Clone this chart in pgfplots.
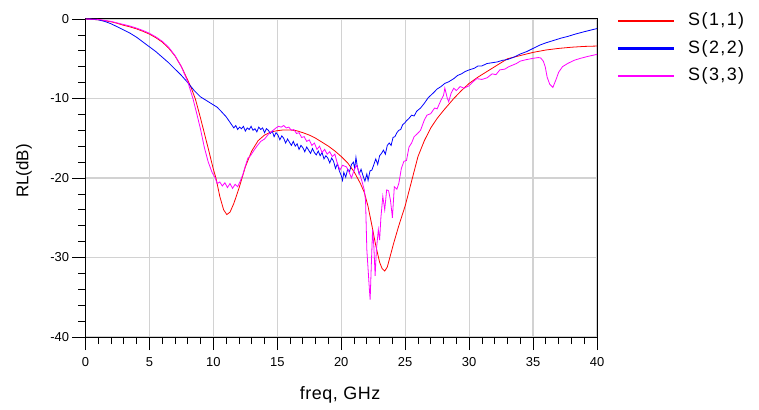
\documentclass[border=0pt]{standalone}
\usepackage{pgfplots}
\pgfplotsset{compat=1.18}
\usepackage{fontspec}
\setmainfont{Liberation Sans}
\definecolor{sred}{RGB}{255,0,0}
\definecolor{sblue}{RGB}{0,0,255}
\definecolor{smag}{RGB}{255,0,255}

\begin{document}
\begin{tikzpicture}
\begin{axis}[
    width=511.5bp, height=318bp, scale only axis,
    xmin=0, xmax=40, ymin=-40, ymax=0,
    xtick={0,5,...,40}, ytick={-40,-30,...,0},
    minor x tick num=4, minor y tick num=4,
    tick align=outside, tick pos=left,
    major tick length=13bp, minor tick length=7bp,
    every tick/.style={black, line width=0.8bp},
    grid=major, major grid style={line width=1.2bp, color=gray!35},
    axis line style={line width=1bp},
    /pgf/number format/assume math mode=true,
    ticklabel style={font=\fontsize{13}{15}\selectfont},
    xticklabel style={yshift=-4bp},
    xlabel={freq, GHz}, ylabel={RL(dB)},
    every axis x label/.style={at={(axis description cs:0.4976,-0.182)}, anchor=center,
        font=\fontsize{18}{21}\selectfont\addfontfeature{LetterSpace=3}},
    every axis y label/.style={at={(axis description cs:-0.1202,0.522)}, anchor=center, rotate=90,
        font=\fontsize{17}{20}\selectfont},
    legend style={draw=none, fill=none, at={(1,1)}, anchor=north west,
        xshift=20bp, yshift=6.5bp, inner sep=0pt, column sep=13bp, row sep=10.3bp,
        font=\fontsize{18}{21}\selectfont\addfontfeature{LetterSpace=8},
        nodes={inner sep=0pt, text height=13bp, text depth=4bp}},
    legend cell align=left,
    legend image code/.code={\draw[#1, line width=2bp] (0bp,0bp) -- (56bp,0bp);},
]
% S(1,1)
\addplot[sred, line width=0.8bp] coordinates {
(0,0) (1,-0.1) (2,-0.35) (2.5,-0.55) (3,-0.8) (3.5,-1.0) (4,-1.25) (4.5,-1.55) (5,-1.9)
(5.5,-2.35) (6,-2.9) (6.5,-3.65) (7,-4.65) (7.5,-6.0) (8,-7.7) (8.3,-8.8) (8.6,-10.1)
(9,-12.5) (9.3,-14.4) (9.6,-16.3) (10,-18.9) (10.2,-20.0) (10.5,-22.3) (10.8,-24.0)
(11.05,-24.6) (11.3,-24.3) (11.6,-23.2) (12,-21.3) (12.5,-18.6) (13,-16.6) (13.5,-15.3)
(14,-14.6) (14.5,-14.2) (15,-14.05) (15.5,-13.95) (16,-13.95) (16.5,-14.05) (17,-14.3)
(17.5,-14.6) (18,-15.0) (18.5,-15.5) (19,-16.0) (19.5,-16.6) (20,-17.3) (20.5,-18.1)
(21,-19.2) (21.5,-20.7) (21.8,-21.8) (22.1,-23.6) (22.4,-26.0) (22.7,-28.5) (23.0,-30.6)
(23.2,-31.4) (23.4,-31.7) (23.6,-31.2) (23.8,-30.0) (24.1,-28.2) (24.5,-26.0) (25,-23.5)
(25.5,-20.4) (26.0,-17.3) (26.5,-15.3) (27,-13.7) (27.5,-12.5) (28,-11.5) (28.8,-10.0)
(29.4,-9.0) (30,-8.1) (30.7,-7.3) (31.4,-6.6) (32.2,-5.8) (33,-5.0) (34,-4.6) (35,-4.2)
(36,-3.9) (37,-3.7) (38,-3.55) (39,-3.45) (40,-3.4)
};
\addlegendentry{S(1,1)}
% S(2,2)
\addplot[sblue, line width=0.8bp] coordinates {
(0,0) (0.5,-0.02) (1,-0.1) (1.5,-0.3) (2,-0.6) (2.7,-1.15) (3.5,-1.8) (4,-2.3) (4.5,-2.9)
(5,-3.5) (5.5,-4.1) (6,-4.8) (6.5,-5.5) (7,-6.3) (7.5,-7.1) (8,-8.0) (8.5,-9.0) (9,-9.8)
(9.5,-10.3) (10,-10.8) (10.3,-11.1) (10.6,-11.6) (11,-12.3) (11.3,-13.0) (11.6,-13.7)
(11.75,-13.4) (11.9,-13.9) (12.05,-13.6) (12.2,-13.8) (12.35,-13.5) (12.5,-14.1)
(12.65,-13.7) (12.8,-13.9) (12.95,-13.5) (13.1,-14.0) (13.25,-13.8) (13.4,-14.2)
(13.55,-13.6) (13.7,-13.9) (13.85,-13.7) (14.0,-14.3) (14.15,-13.8) (14.3,-14.0)
(14.45,-14.4) (14.6,-14.1) (14.75,-14.8) (14.9,-14.3) (15.05,-14.6) (15.2,-15.2)
(15.35,-14.7) (15.5,-15.0) (15.65,-15.6) (15.8,-15.1) (15.95,-15.5) (16.1,-15.9)
(16.25,-15.4) (16.4,-16.0) (16.55,-15.7) (16.7,-16.4) (16.85,-15.9) (17.0,-16.2)
(17.15,-16.7) (17.3,-16.1) (17.45,-16.5) (17.6,-16.9) (17.75,-16.3) (17.9,-16.8)
(18.05,-17.1) (18.2,-16.6) (18.35,-17.2) (18.5,-16.8) (18.65,-17.6) (18.8,-17.2)
(18.95,-17.5) (19.1,-18.1) (19.25,-17.5) (19.4,-17.9) (19.55,-18.8) (19.7,-18.2)
(19.85,-19.1) (20.0,-19.7) (20.1,-20.3) (20.2,-19.3) (20.35,-19.9) (20.5,-18.9)
(20.65,-19.2) (20.8,-18.3) (20.95,-18.0) (21.05,-18.8) (21.15,-17.4) (21.25,-18.5)
(21.4,-19.5) (21.55,-18.9) (21.7,-19.7) (21.85,-20.4) (22.0,-19.5) (22.1,-20.3)
(22.25,-19.1) (22.4,-19.0) (22.55,-18.3) (22.7,-17.6) (22.85,-18.3) (23.0,-17.2)
(23.15,-16.9) (23.3,-16.5) (23.45,-17.0) (23.6,-15.9) (23.75,-15.6) (23.9,-15.9)
(24.05,-14.9) (24.2,-14.8) (24.35,-14.3) (24.5,-14.0) (24.65,-13.9) (24.8,-13.3)
(24.95,-13.1) (25.1,-12.8) (25.3,-12.5) (25.5,-12.1) (25.7,-12.2) (25.9,-11.6)
(26.2,-11.2) (26.5,-10.6) (26.8,-9.9) (27.0,-9.6) (27.2,-9.3) (27.5,-8.8) (27.8,-8.5)
(28.1,-8.1) (28.4,-7.9) (28.8,-7.5) (29.1,-7.1) (29.4,-6.9) (29.7,-6.6) (30.0,-6.4)
(30.4,-6.2) (30.7,-5.9) (31.0,-5.9) (31.4,-5.6) (31.8,-5.5) (32.2,-5.4) (32.6,-5.2)
(33.0,-5.1) (33.5,-4.8) (34.0,-4.4) (34.5,-4.1) (35.0,-3.7) (35.5,-3.3) (36.0,-3.0)
(36.6,-2.7) (37.2,-2.4) (37.7,-2.2) (38.3,-1.9) (39.0,-1.6) (39.5,-1.4) (40.0,-1.2)
};
\addlegendentry{S(2,2)}
% S(3,3)
\addplot[smag, line width=0.8bp] coordinates {
(0,0) (1,-0.05) (2,-0.3) (2.5,-0.5) (3,-0.7) (3.5,-0.9) (4,-1.15) (4.5,-1.45) (5,-1.8)
(5.5,-2.25) (6,-2.8) (6.5,-3.55) (7,-4.6) (7.5,-6.0) (8,-7.9) (8.4,-10.0) (8.7,-11.9)
(9.0,-13.9) (9.3,-16.2) (9.6,-18.0) (9.9,-19.3) (10.15,-20.0) (10.3,-20.7) (10.5,-20.5)
(10.7,-21.0) (10.9,-20.6) (11.1,-21.2) (11.3,-20.7) (11.5,-21.3) (11.7,-20.8) (11.9,-21.1)
(12.1,-20.4) (12.3,-19.6) (12.5,-18.5) (12.7,-17.5) (12.9,-17.2) (13.1,-16.7) (13.4,-16.0)
(13.7,-15.4) (14.0,-15.1) (14.3,-14.5) (14.6,-14.1) (14.9,-13.7) (15.1,-13.5) (15.3,-13.6)
(15.5,-13.4) (15.7,-13.7) (15.9,-13.6) (16.1,-14.0) (16.3,-13.9) (16.5,-14.4) (16.7,-14.3)
(16.9,-14.9) (17.1,-14.8) (17.3,-15.4) (17.5,-15.2) (17.7,-15.9) (17.9,-15.6) (18.1,-16.4)
(18.3,-16.0) (18.5,-16.8) (18.7,-16.4) (18.9,-17.0) (19.1,-16.7) (19.3,-17.3) (19.5,-17.0)
(19.7,-18.2) (19.9,-19.0) (20.1,-18.4) (20.4,-18.6) (20.6,-19.2) (20.8,-20.0) (21.0,-19.0)
(21.2,-18.4) (21.4,-19.3) (21.6,-20.3) (21.8,-21.5) (21.9,-22.8) (22.0,-29.0) (22.1,-31.5)
(22.2,-34.0) (22.26,-35.3) (22.35,-31.0) (22.45,-26.5) (22.55,-28.6) (22.65,-32.3)
(22.75,-29.0) (22.9,-26.5) (23.0,-27.8) (23.1,-25.0) (23.25,-22.3) (23.4,-24.0)
(23.55,-21.5) (23.7,-21.6) (23.85,-22.8) (24.0,-25.0) (24.15,-21.1) (24.35,-21.4)
(24.5,-20.7) (24.7,-18.8) (24.9,-17.9) (25.1,-17.8) (25.3,-16.1) (25.5,-15.6) (25.7,-14.8)
(25.97,-14.4) (26.2,-14.0) (26.5,-12.7) (26.7,-12.1) (27.0,-11.9) (27.3,-11.2) (27.5,-11.3)
(27.8,-10.2) (28.0,-9.6) (28.1,-8.7) (28.3,-10.0) (28.4,-10.4) (28.6,-9.3) (28.8,-8.7)
(29.0,-9.0) (29.3,-8.5) (29.6,-8.7) (30.0,-8.4) (30.3,-7.9) (30.6,-7.5) (31.0,-7.6)
(31.4,-7.4) (31.8,-6.9) (32.1,-7.0) (32.4,-6.4) (32.8,-6.3) (33.1,-6.0) (33.4,-5.8)
(33.7,-5.6) (34.0,-5.3) (34.5,-5.1) (35.0,-4.95) (35.4,-4.85) (35.6,-4.9) (35.8,-5.3)
(35.95,-6.0) (36.1,-7.3) (36.3,-8.2) (36.55,-8.6) (36.8,-7.6) (37.0,-6.7) (37.3,-6.0)
(37.7,-5.6) (38.2,-5.2) (38.7,-4.95) (39.3,-4.7) (40.0,-4.45)
};
\addlegendentry{S(3,3)}
\end{axis}
\pgfresetboundingbox
\path (-85.5bp,-73bp) rectangle (673.5bp,337bp);
\end{tikzpicture}
\end{document}
